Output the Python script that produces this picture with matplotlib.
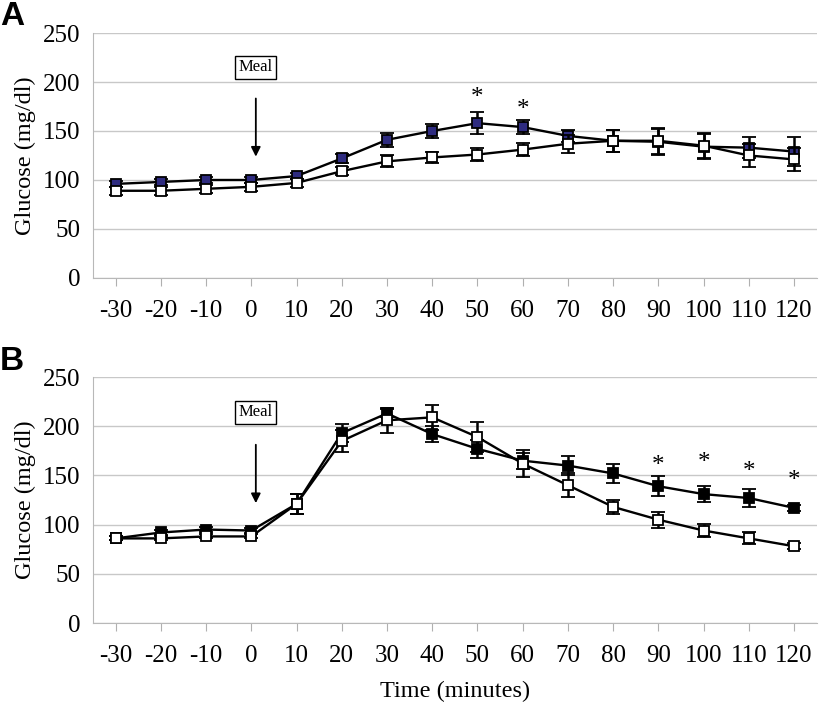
import matplotlib
matplotlib.use("Agg")
import matplotlib.pyplot as plt

plt.rcParams['font.family'] = ['Liberation Serif', 'DejaVu Serif']

times = [-30, -20, -10, 0, 10, 20, 30, 40, 50, 60, 70, 80, 90, 100, 110, 120]
tick_labels = [str(t) for t in times]

# Panel A
a_filled = [96, 98, 100, 100, 104, 122, 141, 150, 158, 154, 145, 140, 139, 134, 133, 129]
a_filled_err = [3, 3, 3, 3, 3, 5, 7, 7, 11, 7, 6, 11, 13, 13, 11, 15]
a_open = [89, 89, 91, 93, 97, 109, 119, 123, 126, 131, 137, 140, 140, 135, 125, 121]
a_open_err = [4, 4, 4, 4, 4, 4, 6, 6, 7, 7, 9, 11, 13, 13, 12, 12]
a_stars = [50, 60]
a_star_y = [184, 171]

# Panel B
b_filled = [86, 92, 95, 94, 121, 193, 213, 192, 177, 165, 160, 152, 139, 131, 127, 117]
b_filled_err = [2, 3, 3, 3, 10, 9, 4, 8, 9, 8, 10, 10, 10, 8, 9, 3]
b_open = [86, 86, 88, 88, 121, 185, 206, 209, 189, 162, 140, 118, 105, 94, 86, 78]
b_open_err = [2, 2, 2, 2, 10, 11, 13, 13, 15, 14, 12, 7, 8, 7, 6, 3]
b_stars = [90, 100, 110, 120]
b_star_y = [160, 163, 153, 144]

fig = plt.figure(figsize=(8.2, 7.1), dpi=100)
ax_a = fig.add_axes([0.1134, 0.6085, 0.8826, 0.345])
ax_b = fig.add_axes([0.1134, 0.1225, 0.8826, 0.3465])

x = list(range(len(times)))


def draw_panel(ax, filled, filled_err, opn, opn_err, fill_color, stars, star_y, meal_y, arrow_top, arrow_tip):
    ax.errorbar(x, filled, yerr=filled_err, fmt='s-', color='black', lw=1.7,
                ms=7.5, mfc=fill_color, mec='black', mew=1.3,
                ecolor='black', elinewidth=1.8, capsize=5, capthick=2.4, zorder=3)
    ax.errorbar(x, opn, yerr=opn_err, fmt='s-', color='black', lw=1.7,
                ms=7.5, mfc='white', mec='black', mew=1.3,
                ecolor='black', elinewidth=1.8, capsize=5, capthick=2.4, zorder=4)
    for t, sy in zip(stars, star_y):
        ax.text(times.index(t), sy, '*', ha='center', va='center', fontsize=18)

    ax.set_ylim(0, 250)
    ax.set_xlim(-0.5, len(times) - 0.5)
    ax.set_yticks(range(0, 251, 50))
    ax.set_xticks(x)
    ax.set_xticklabels(tick_labels)
    ax.tick_params(axis='both', labelsize=18, colors='#b0b0b0', labelcolor='black')
    ax.tick_params(axis='x', length=6, pad=10)
    ax.tick_params(axis='y', length=0, pad=9)
    ax.yaxis.grid(True, color='#c8c8c8', lw=1)
    ax.set_axisbelow(True)
    for s in ['top', 'right']:
        ax.spines[s].set_visible(False)
    for s in ['left', 'bottom']:
        ax.spines[s].set_color('#b8b8b8')
    ax.set_ylabel('Glucose (mg/dl)', fontsize=17.5, labelpad=5)

    mx = times.index(0) + 0.1
    ax.text(mx, meal_y, 'Meal', ha='center', va='center', fontsize=12,
            bbox=dict(boxstyle='square,pad=0.2', fc='white', ec='black', lw=1))
    ax.annotate('', xy=(mx, arrow_tip), xytext=(mx, arrow_top),
                arrowprops=dict(arrowstyle='-|>', color='black', lw=1.3, mutation_scale=14))


draw_panel(ax_a, a_filled, a_filled_err, a_open, a_open_err, '#2e2b7f',
           a_stars, a_star_y, 215, 186, 121)
draw_panel(ax_b, b_filled, b_filled_err, b_open, b_open_err, 'black',
           b_stars, b_star_y, 214, 184, 119)

ax_b.set_xlabel('Time (minutes)', fontsize=17.5, labelpad=10)

fig.text(0.0, 0.998, 'A', fontsize=24, fontweight='bold', family='Liberation Sans', va='top')
fig.text(0.0, 0.512, 'B', fontsize=24, fontweight='bold', family='Liberation Sans', va='top')

fig.savefig('out.png', dpi=100)
